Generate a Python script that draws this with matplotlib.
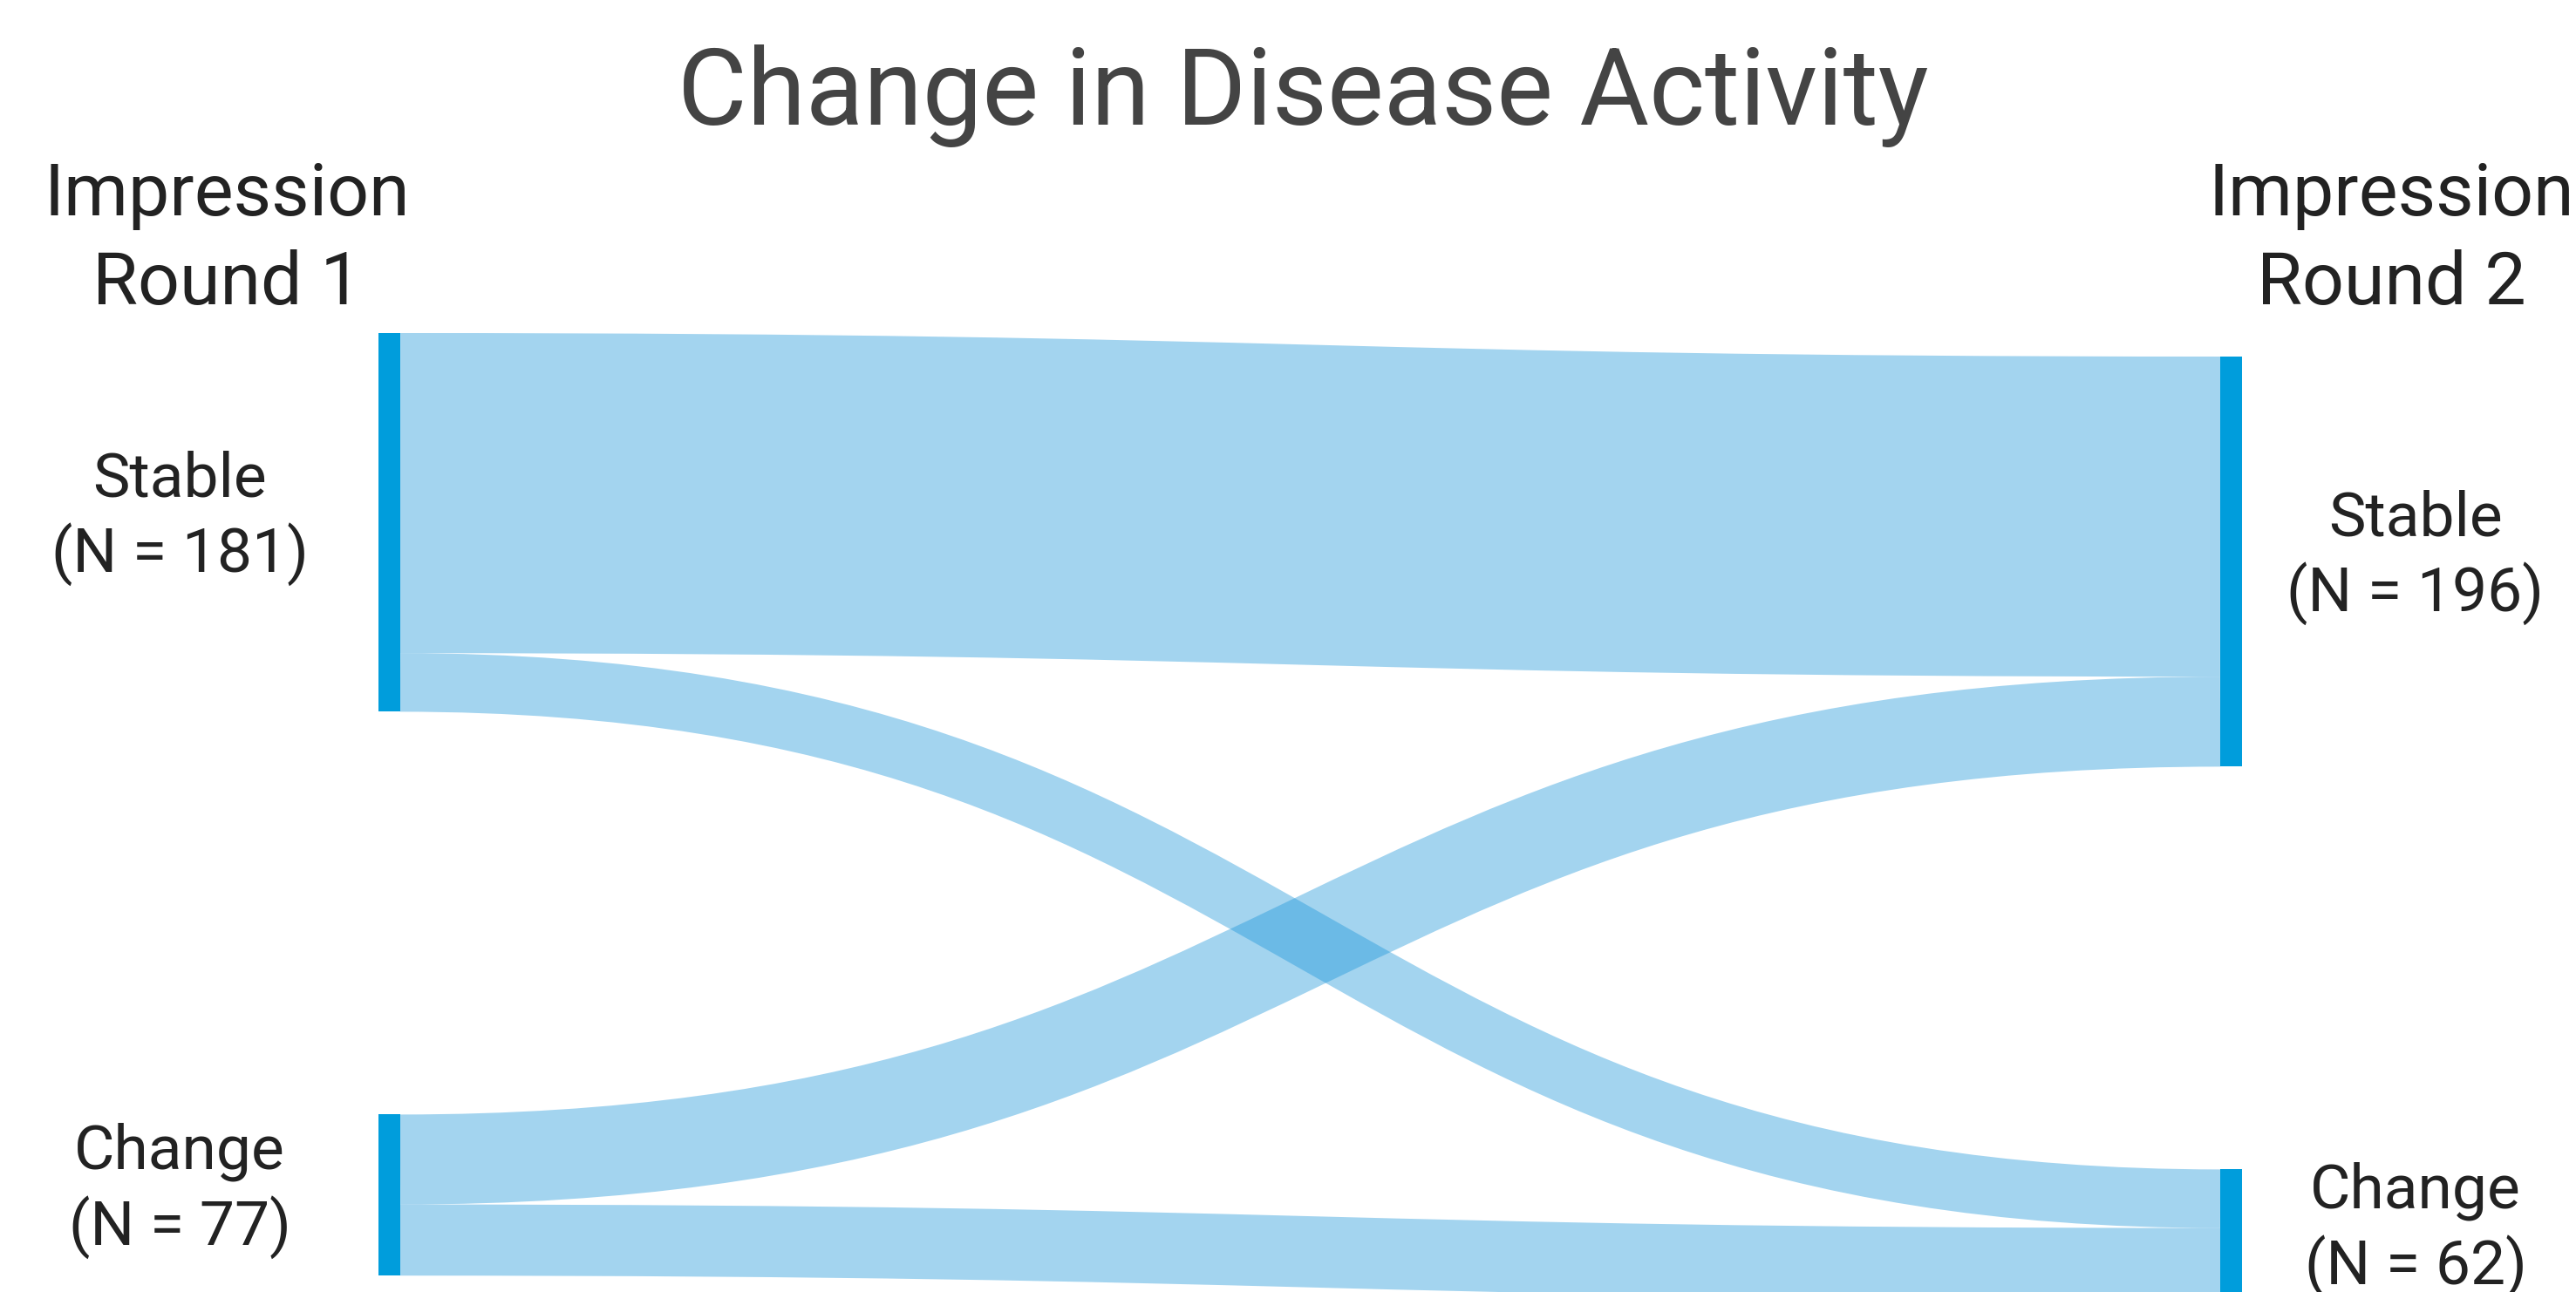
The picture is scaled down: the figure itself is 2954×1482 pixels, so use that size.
import matplotlib.pyplot as plt
from matplotlib.path import Path
from matplotlib.patches import PathPatch, Rectangle

plt.rcParams["font.family"] = ["Roboto", "DejaVu Sans"]

# data
round1_labels = ["Stable", "Change"]
round1_counts = [181, 77]
round2_labels = ["Stable", "Change"]
round2_counts = [196, 62]
flow_source = ["Stable", "Stable", "Change", "Change"]
flow_target = ["Stable", "Change", "Stable", "Change"]
flow_counts = [153, 28, 43, 34]

title = "Change in Disease Activity"
headers = [["Impression", "Round 1"], ["Impression", "Round 2"]]

# layout (pixels)
W, H, DPI = 2954, 1482, 200
PX = 2.4          # pixels per patient
GAP = 462         # gap between nodes in a column
NODE_W = 25
node_color = "#009ddc"
flow_color = "#1994d9"

fig = plt.figure(figsize=(W / DPI, H / DPI), dpi=DPI)
ax = fig.add_axes([0, 0, 1, 1])
ax.set_xlim(0, W)
ax.set_ylim(H, 0)
ax.axis("off")

columns = [
    dict(x=434, top=382, labels=round1_labels, counts=round1_counts,
         label_x=206, header_x=260),
    dict(x=2546, top=409, labels=round2_labels, counts=round2_counts,
         label_x=2770, header_x=2742),
]

# nodes and their labels
for col in columns:
    tops = {}
    y = col["top"]
    for lab, n in zip(col["labels"], col["counts"]):
        tops[lab] = y
        h = n * PX
        ax.add_patch(Rectangle((col["x"], y), NODE_W, h, color=node_color, lw=0, zorder=3))
        center = y + h / 2
        lines = [lab, f"(N = {n})"]
        for i, line in enumerate(lines):
            ax.text(col["label_x"], center - 30 + i * 87, line, ha="center", va="baseline",
                    fontsize=25.7, color="#222222")
        y += h + GAP
    col["tops"] = tops
    col["used"] = {lab: 0.0 for lab in col["labels"]}

# flows drawn as thick bezier strokes
left, right = columns
x0 = left["x"] + NODE_W
x1 = right["x"]
xm = (x0 + x1) / 2
for s, t, n in zip(flow_source, flow_target, flow_counts):
    w = n * PX
    y0 = left["tops"][s] + left["used"][s] + w / 2
    y1 = right["tops"][t] + right["used"][t] + w / 2
    left["used"][s] += w
    right["used"][t] += w
    path = Path([(x0, y0), (xm, y0), (xm, y1), (x1, y1)],
                [Path.MOVETO, Path.CURVE4, Path.CURVE4, Path.CURVE4])
    ax.add_patch(PathPatch(path, fill=False, edgecolor=flow_color, alpha=0.4,
                           lw=w * 72 / DPI, capstyle="butt", zorder=2))

# headers and title
for col, hdr in zip(columns, headers):
    for i, line in enumerate(hdr):
        ax.text(col["header_x"], 247 + i * 102, line, ha="center", va="baseline",
                fontsize=30.4, color="#222222")

ax.text(1494, 143, title, ha="center", va="baseline", fontsize=44, color="#444444")

fig.savefig("out.png", dpi=DPI, facecolor="white")
